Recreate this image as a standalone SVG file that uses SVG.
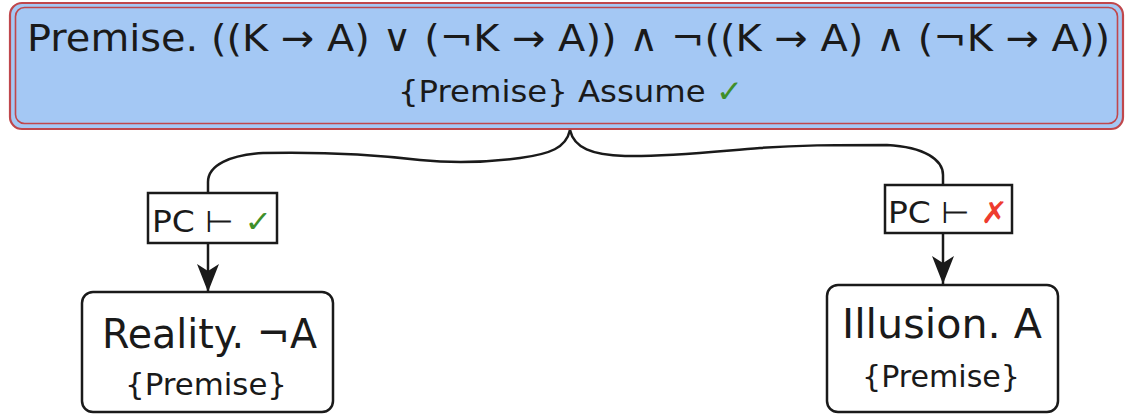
<svg xmlns="http://www.w3.org/2000/svg" width="1127" height="417" viewBox="0 0 1127 417">
<style>
text{font-family:"DejaVu Sans","Liberation Sans",sans-serif;fill:#1a1a1a}
.box{fill:#ffffff;stroke:#1a1a1a;stroke-width:2.5}
.lbl{fill:#ffffff;stroke:#1a1a1a;stroke-width:2.5}
.conn{fill:none;stroke:#1a1a1a;stroke-width:2.5}
.ok{fill:#3f8f2a}
.no{fill:#ee3b2e}
</style>
<defs>
<marker id="arr" markerUnits="userSpaceOnUse" markerWidth="32" markerHeight="26" refX="28" refY="11" orient="auto" viewBox="0 0 32 22">
<path d="M28,11 L0,0 L7,11 L0,22 Z" fill="#1a1a1a"/>
</marker>
</defs>
<g id="premise">
<rect x="10" y="3" width="1113" height="126" rx="12" fill="#a4c8f4" stroke="#c0474c" stroke-width="2.2"/>
<rect x="15.5" y="7.5" width="1102" height="116" rx="9" fill="none" stroke="#c0474c" stroke-width="1.6"/>
<text x="27" y="51" font-size="38" textLength="1083" lengthAdjust="spacingAndGlyphs">Premise. ((K → A) ∨ (¬K → A)) ∧ ¬((K → A) ∧ (¬K → A))</text>
<text x="398" y="102" font-size="31" textLength="345" lengthAdjust="spacingAndGlyphs">{Premise} Assume <tspan class="ok">✓</tspan></text>
</g>
<g id="connectors">
<path class="conn" d="M570,130 C566,148 550,154 520,158 C490,162 460,164 420,160 C370,154 310,152 263,153 C230,155 208,165 208,182 L208,193"/>
<path class="conn" d="M570,130 C574,148 592,155 625,156 C665,157 710,152 760,148 C800,145 830,145 887,145 C925,147 943,160 943,175 L943,185"/>
<path class="conn" d="M208,243 L208,292" marker-end="url(#arr)"/>
<path class="conn" d="M943,233 L943,284" marker-end="url(#arr)"/>
</g>
<g id="label-left">
<rect class="lbl" x="148" y="193" width="129" height="50"/>
<text x="152" y="232" font-size="30" textLength="120" lengthAdjust="spacingAndGlyphs">PC ⊢ <tspan class="ok">✓</tspan></text>
</g>
<g id="label-right">
<rect class="lbl" x="885" y="185" width="127" height="48"/>
<text x="888" y="223" font-size="30" textLength="120" lengthAdjust="spacingAndGlyphs">PC ⊢ <tspan class="no">✗</tspan></text>
</g>
<g id="reality">
<rect class="box" x="82" y="292" width="251" height="120" rx="11"/>
<text x="102" y="348" font-size="40" textLength="215" lengthAdjust="spacingAndGlyphs">Reality. ¬A</text>
<text x="125" y="395" font-size="31" textLength="162" lengthAdjust="spacingAndGlyphs">{Premise}</text>
</g>
<g id="illusion">
<rect class="box" x="827" y="285" width="231" height="127" rx="11"/>
<text x="842" y="338" font-size="40" textLength="200" lengthAdjust="spacingAndGlyphs">Illusion. A</text>
<text x="862" y="387" font-size="31" textLength="158" lengthAdjust="spacingAndGlyphs">{Premise}</text>
</g>
</svg>
